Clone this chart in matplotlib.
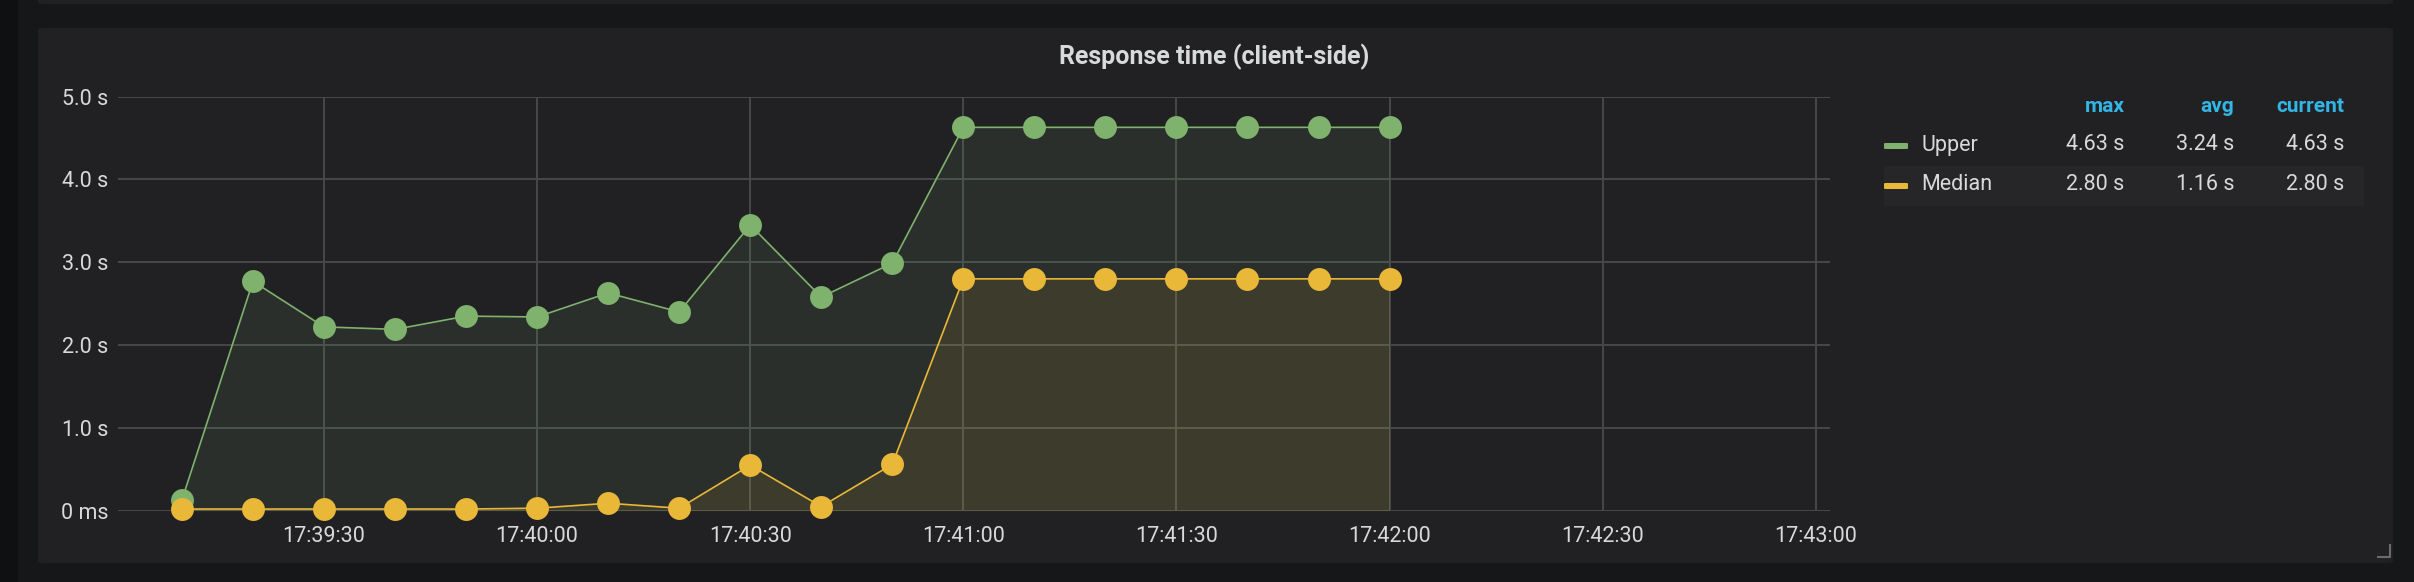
import matplotlib
matplotlib.use("Agg")
import matplotlib.pyplot as plt
import matplotlib.dates as mdates
from matplotlib.patches import FancyBboxPatch, Rectangle
from matplotlib.lines import Line2D
import pandas as pd

# data (seconds)
times = ["17:39:10", "17:39:20", "17:39:30", "17:39:40", "17:39:50", "17:40:00",
         "17:40:10", "17:40:20", "17:40:30", "17:40:40", "17:40:50", "17:41:00",
         "17:41:10", "17:41:20", "17:41:30", "17:41:40", "17:41:50", "17:42:00"]
upper = [0.13, 2.77, 2.22, 2.19, 2.35, 2.34, 2.63, 2.40, 3.45, 2.58, 2.99,
         4.63, 4.63, 4.63, 4.63, 4.63, 4.63, 4.63]
median = [0.02, 0.02, 0.02, 0.02, 0.02, 0.03, 0.09, 0.03, 0.55, 0.05, 0.56,
          2.80, 2.80, 2.80, 2.80, 2.80, 2.80, 2.80]

series_names = ["Upper", "Median"]
series_colors = ["#7eb26d", "#eab839"]
legend_cols = ["max", "avg", "current"]
legend_vals = [["4.63 s", "3.24 s", "4.63 s"],
               ["2.80 s", "1.16 s", "2.80 s"]]
y_ticks = [0, 1, 2, 3, 4, 5]
y_labels = ["0 ms", "1.0 s", "2.0 s", "3.0 s", "4.0 s", "5.0 s"]
x_ticks = ["17:39:30", "17:40:00", "17:40:30", "17:41:00", "17:41:30",
           "17:42:00", "17:42:30", "17:43:00"]
x_range = ["17:39:01", "17:43:02"]

day = "2023-01-01 "
t = pd.to_datetime([day + s for s in times])

W, H = 2414, 582
plt.rcParams['font.family'] = ['Roboto', 'DejaVu Sans']
text_col = "#d8d9da"

fig = plt.figure(figsize=(W / 100, H / 100), dpi=100, facecolor="#161719")

# pixel -> figure fraction
def fx(px):
    return px / W

def fy(py):
    return 1 - py / H

# panel backgrounds
fig.patches.append(Rectangle((0, 0), fx(18), 1, transform=fig.transFigure,
                             facecolor="#0f1012", edgecolor="none", zorder=-2))
fig.patches.append(FancyBboxPatch((fx(38), fy(4)), fx(2393) - fx(38), fy(-10) - fy(4),
                                  boxstyle="round,pad=0,rounding_size=0.003",
                                  transform=fig.transFigure, facecolor="#212124",
                                  edgecolor="none", zorder=-2))
fig.patches.append(FancyBboxPatch((fx(38), fy(563)), fx(2393) - fx(38), fy(28) - fy(563),
                                  boxstyle="round,pad=0,rounding_size=0.003",
                                  transform=fig.transFigure, facecolor="#212124",
                                  edgecolor="none", zorder=-2))

ax = fig.add_axes([fx(118), fy(510.7), fx(1830) - fx(118), fy(96.7) - fy(510.7)])
ax.set_facecolor("none")
ax.set_zorder(2)

for vals, col in zip([upper, median], series_colors):
    ax.fill_between(t, 0, vals, color=col, alpha=0.1, linewidth=0, zorder=2)
    ax.plot(t, vals, color=col, linewidth=1.2, marker="o", markersize=16.5,
            markeredgewidth=0, zorder=3, clip_on=False)

ax.set_ylim(0, 5)
ax.set_xlim(pd.to_datetime(day + x_range[0]), pd.to_datetime(day + x_range[1]))
ax.set_yticks(y_ticks)
ax.set_yticklabels(y_labels)
ax.set_xticks(pd.to_datetime([day + s for s in x_ticks]))
ax.xaxis.set_major_formatter(mdates.DateFormatter("%H:%M:%S"))
ax.tick_params(length=0, labelsize=15.5, labelcolor=text_col)
ax.tick_params(axis="y", pad=7)
ax.tick_params(axis="x", pad=11)
ax.grid(True, color="#48484a", linewidth=1.4, zorder=1)
ax.set_axisbelow(True)
for sp in ax.spines.values():
    sp.set_visible(False)

# title
fig.text(fx(1214), fy(57), "Response time (client-side)", ha="center", va="center",
         fontsize=18, fontweight="bold", color=text_col)

# legend table
col_right = [2124.5, 2234, 2344]
for name, x in zip(legend_cols, col_right):
    fig.text(fx(x), fy(107), name, ha="right", va="center", fontsize=15,
             fontweight="bold", color="#33b5e5")

row_y = [145, 185]
fig.patches.append(Rectangle((fx(1884), fy(205.7)), fx(2364) - fx(1884),
                             fy(166) - fy(205.7), transform=fig.transFigure,
                             facecolor="#262628", edgecolor="none", zorder=-1))
for name, col, vals, y in zip(series_names, series_colors, legend_vals, row_y):
    fig.patches.append(FancyBboxPatch((fx(1884), fy(y + 4)), fx(1908) - fx(1884),
                                      fy(y - 2) - fy(y + 4),
                                      boxstyle="round,pad=0,rounding_size=0.001",
                                      transform=fig.transFigure, facecolor=col,
                                      edgecolor="none", zorder=1))
    fig.text(fx(1921), fy(y), name, ha="left", va="center", fontsize=15.5,
             color=text_col)
    for v, x in zip(vals, col_right):
        fig.text(fx(x), fy(y), v, ha="right", va="center", fontsize=15.5,
                 color=text_col)

# resize handle in the panel corner
fig.add_artist(Line2D([fx(2378), fx(2390), fx(2390)], [fy(557), fy(557), fy(545)],
                      transform=fig.transFigure, color="#6b6b6e", linewidth=1.5))

fig.savefig("out.png", dpi=100, facecolor=fig.get_facecolor())
